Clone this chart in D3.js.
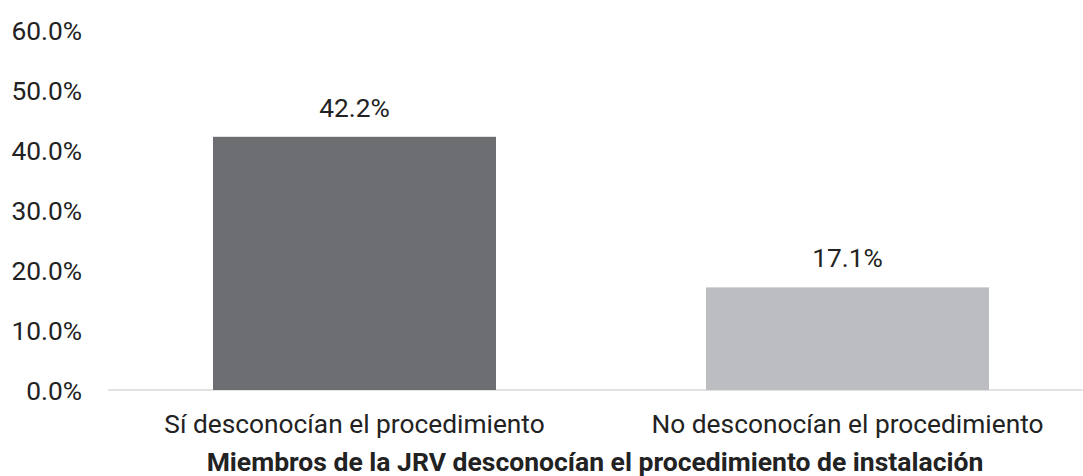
<!DOCTYPE html>
<html><head><meta charset="utf-8">
<script src="https://cdn.jsdelivr.net/npm/d3@7"></script>
<style>body{margin:0;background:#fff}svg{display:block}text{font-family:Roboto,"Noto Sans",sans-serif;fill:#222}</style>
</head><body>
<svg id="c" width="1083" height="476"></svg>
<script>
const categories = ["Sí desconocían el procedimiento", "No desconocían el procedimiento"];
const values = [42.2, 17.1];
const colors = ["#6d6e72", "#bcbdc1"];
const yTicks = [0, 10, 20, 30, 40, 50, 60];
const xTitle = "Miembros de la JRV desconocían el procedimiento de instalación";

const svg = d3.select("#c");
const x = d3.scaleBand().domain(categories).range([108, 1094]).paddingInner(0.426).paddingOuter(0.213);
const y = d3.scaleLinear().domain([0, 60]).range([390, 30]);

svg.append("line").attr("x1", 108).attr("x2", 1083).attr("y1", y(0)).attr("y2", y(0))
  .attr("stroke", "#e2e2e2").attr("stroke-width", 2);

const yAxis = svg.append("g").attr("transform", "translate(82,0)")
  .call(d3.axisLeft(y).tickValues(yTicks).tickSize(0).tickPadding(0).tickFormat(d => d.toFixed(1) + "%"));
yAxis.select(".domain").remove();
yAxis.selectAll("text").style("font-size", "26.3px").attr("fill", "#222").attr("dy", "0.36em");

svg.selectAll("rect.bar").data(values).enter().append("rect").attr("class", "bar")
  .attr("x", (d, i) => x(categories[i])).attr("width", x.bandwidth())
  .attr("y", d => y(d)).attr("height", d => y(0) - y(d))
  .attr("fill", (d, i) => colors[i]);

svg.selectAll("text.val").data(values).enter().append("text").attr("class", "val")
  .attr("x", (d, i) => x(categories[i]) + x.bandwidth() / 2).attr("y", d => y(d) - 20)
  .attr("text-anchor", "middle").style("font-size", "26.3px").text(d => d.toFixed(1) + "%");

const xAxis = svg.append("g").attr("transform", `translate(0,${y(0)})`)
  .call(d3.axisBottom(x).tickSize(0).tickPadding(0));
xAxis.select(".domain").remove();
xAxis.selectAll("text").style("font-size", "26.3px").attr("fill", "#222").attr("dy", null).attr("y", 43);

svg.append("text").attr("x", 595).attr("y", 471).attr("text-anchor", "middle")
  .style("font-size", "26.5px").style("font-weight", "bold").text(xTitle);
</script>
</body></html>
